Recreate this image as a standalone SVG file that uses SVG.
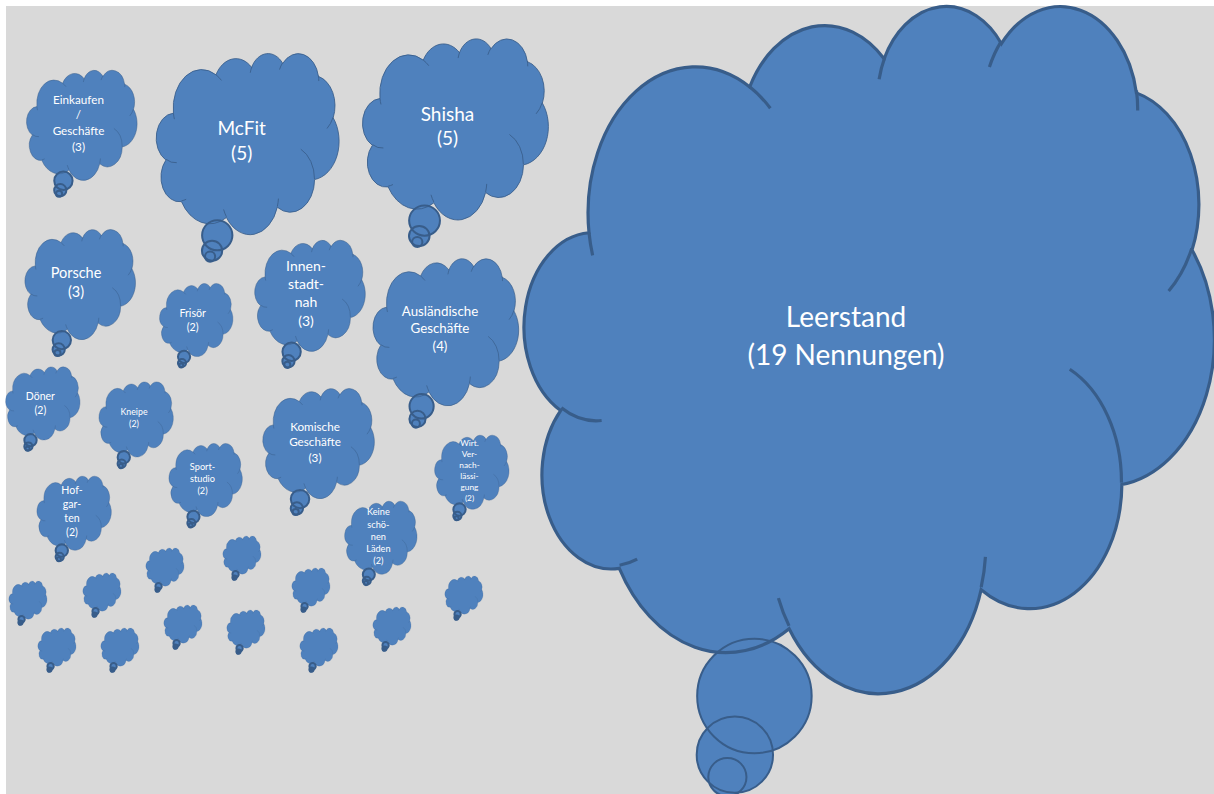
<svg xmlns="http://www.w3.org/2000/svg" xmlns:xlink="http://www.w3.org/1999/xlink" width="1214" height="794" viewBox="0 0 1214 794">
<style>
.t{font-family:Lato,"Liberation Sans",sans-serif;fill:#fff;text-anchor:middle}
.cl{stroke-width:2}
</style>
<defs>
<path id="cp" d="M39,143.7 A67.53,91.9 0 0 1 140.05,52.03 A53.33,72.67 0 0 1 224.57,34.33 A43.65,59.45 0 0 1 298.34,24.81 A48.57,65.95 0 0 1 383.19,55.76 A53.33,72.73 0 0 1 418.19,154.6 A67.75,92.2 0 0 1 374.06,302.05 A57.85,78.67 0 0 1 285.58,368.15 A67.52,92.15 0 0 1 164.83,392.68 A77.2,105.43 0 0 1 58.06,354.74 A43.6,59.18 0 0 1 21.14,255.54 A43.45,59.45 0 0 1 39,143.7 Z"/>
<path id="kp" d="M46.93,261.77 A43.45,59.45 0 0 1 21.59,253.79 M69.28,348.99 A43.6,59.18 0 0 1 58.2,352.81 M164.78,390.9 A67.52,92.15 0 0 1 158.09,373.48 M288.27,347.51 A67.52,92.15 0 0 1 285.6,366.6 M341.29,229.54 A57.85,78.67 0 0 1 373.81,300.9 M417.98,153.54 A53.33,72.73 0 0 1 403.5,180.29 M383.24,54.26 A48.57,65.95 0 0 1 384,66.9 M290.78,39.52 A48.57,65.95 0 0 1 298.2,23.4 M221.41,47.2 A43.65,59.45 0 0 1 225,33.31 M140,51.92 A67.53,91.9 0 0 1 153.01,65.42 M41.27,157.89 A67.53,91.9 0 0 1 39,143.71"/>
<g id="cl">
<g fill="#4f81bd" stroke="none">
<use xlink:href="#cp"/>
<circle cx="126" cy="486" r="12"/>
<circle cx="130.7" cy="471.9" r="24"/>
<circle cx="143" cy="435" r="36"/>
</g>
<g fill="none" stroke="#385d8a">
<use xlink:href="#cp" vector-effect="non-scaling-stroke"/>
<circle cx="126" cy="486" r="12" vector-effect="non-scaling-stroke"/>
<circle cx="130.7" cy="471.9" r="24" vector-effect="non-scaling-stroke"/>
<circle cx="143" cy="435" r="36" vector-effect="non-scaling-stroke"/>
<use xlink:href="#kp" vector-effect="non-scaling-stroke"/>
</g>
</g>
</defs>
<rect width="1214" height="794" fill="#ffffff"/>
<rect x="6" y="6" width="1208" height="788" fill="#d9d9d9"/>

<g id="leerstand">
<use xlink:href="#cl" class="cl" stroke-width="1.7" transform="translate(527,4.2) scale(1.5903)"/>
<text class="t" font-size="28" x="846"><tspan x="846" y="326.9">Leerstand</tspan><tspan x="846" y="365.1">(19 Nennungen)</tspan></text>
</g>

<g id="einkaufen">
<use xlink:href="#cl" class="cl" transform="translate(27,70) scale(0.25463)"/>
<text class="t" font-size="11.7"><tspan x="78.5" y="104.2">Einkaufen</tspan><tspan x="78.5" y="119.2">/</tspan><tspan x="78.5" y="135.2">Geschäfte</tspan><tspan x="78.5" y="150.9">(3)</tspan></text>
</g>

<g id="mcfit">
<use xlink:href="#cl" class="cl" transform="translate(157,53) scale(0.4213,0.41898)"/>
<text class="t" font-size="19"><tspan x="241.7" y="134.8">McFit</tspan><tspan x="241.7" y="159.8">(5)</tspan></text>
</g>

<g id="shisha">
<use xlink:href="#cl" class="cl" transform="translate(363.3,38.3) scale(0.42824,0.41898)"/>
<text class="t" font-size="19"><tspan x="447.5" y="120.8">Shisha</tspan><tspan x="447.5" y="145.1">(5)</tspan></text>
</g>

<g id="porsche">
<use xlink:href="#cl" class="cl" transform="translate(25.4,229.3) scale(0.25463)"/>
<text class="t" font-size="14.5"><tspan x="76" y="277.9">Porsche</tspan><tspan x="76" y="296.9">(3)</tspan></text>
</g>

<g id="frisoer">
<use xlink:href="#cl" class="cl" transform="translate(159.9,283.3) scale(0.16898)"/>
<text class="t" font-size="10.7"><tspan x="192.7" y="316.6">Frisör</tspan><tspan x="192.7" y="330.6">(2)</tspan></text>
</g>

<g id="innenstadtnah">
<use xlink:href="#cl" class="cl" transform="translate(255.2,240) scale(0.25463,0.25694)"/>
<text class="t" font-size="14"><tspan x="306" y="270.7">Innen-</tspan><tspan x="306" y="289.3">stadt-</tspan><tspan x="306" y="307.3">nah</tspan><tspan x="306" y="326">(3)</tspan></text>
</g>

<g id="auslaendische">
<use xlink:href="#cl" class="cl" transform="translate(373.6,258.3) scale(0.33565,0.34028)"/>
<text class="t" font-size="13.3"><tspan x="440" y="315.5">Ausländische</tspan><tspan x="440" y="333.1">Geschäfte</tspan><tspan x="440" y="350.5">(4)</tspan></text>
</g>

<g id="doener">
<use xlink:href="#cl" class="cl" transform="translate(6,366.7) scale(0.1713,0.16898)"/>
<text class="t" font-size="10.5"><tspan x="40.4" y="399.8">Döner</tspan><tspan x="40.4" y="413.8">(2)</tspan></text>
</g>

<g id="kneipe">
<use xlink:href="#cl" class="cl" transform="translate(99.3,381.7) scale(0.1713,0.17361)"/>
<text class="t" font-size="8.8"><tspan x="134" y="414.9">Kneipe</tspan><tspan x="134" y="426.5">(2)</tspan></text>
</g>

<g id="komische">
<use xlink:href="#cl" class="cl" transform="translate(263.3,388.3) scale(0.25694,0.25463)"/>
<text class="t" font-size="11.7"><tspan x="315" y="430.9">Komische</tspan><tspan x="315" y="445.9">Geschäfte</tspan><tspan x="315" y="461.9">(3)</tspan></text>
</g>

<g id="wirt">
<use xlink:href="#cl" class="cl" transform="translate(435,435) scale(0.1713)"/>
<text class="t" font-size="8.3"><tspan x="469.5" y="446">Wirt.</tspan><tspan x="469.5" y="457">Ver-</tspan><tspan x="469.5" y="468">nach-</tspan><tspan x="469.5" y="479">lässi-</tspan><tspan x="469.5" y="490">gung</tspan><tspan x="469.5" y="501">(2)</tspan></text>
</g>

<g id="sportstudio">
<use xlink:href="#cl" class="cl" transform="translate(169.3,443.3) scale(0.16898)"/>
<text class="t" font-size="9.2"><tspan x="202.5" y="470">Sport-</tspan><tspan x="202.5" y="482.2">studio</tspan><tspan x="202.5" y="494.3">(2)</tspan></text>
</g>

<g id="hofgarten">
<use xlink:href="#cl" class="cl" transform="translate(37.3,476) scale(0.1713)"/>
<text class="t" font-size="10.6"><tspan x="72" y="493.8">Hof-</tspan><tspan x="72" y="508.1">gar-</tspan><tspan x="72" y="522.1">ten</tspan><tspan x="72" y="536.1">(2)</tspan></text>
</g>

<g id="keine">
<use xlink:href="#cl" class="cl" transform="translate(345,501) scale(0.16667,0.16898)"/>
<text class="t" font-size="9.2"><tspan x="378.4" y="515.3">Keine</tspan><tspan x="378.4" y="527.5">schö-</tspan><tspan x="378.4" y="539.8">nen</tspan><tspan x="378.4" y="552">Läden</tspan><tspan x="378.4" y="564.3">(2)</tspan></text>
</g>

<g id="blank1"><use xlink:href="#cl" class="cl" transform="translate(146,548) scale(0.08796)"/></g>
<g id="blank2"><use xlink:href="#cl" class="cl" transform="translate(223,536) scale(0.08796)"/></g>
<g id="blank3"><use xlink:href="#cl" class="cl" transform="translate(9,581) scale(0.08796)"/></g>
<g id="blank4"><use xlink:href="#cl" class="cl" transform="translate(83,573) scale(0.08796)"/></g>
<g id="blank5"><use xlink:href="#cl" class="cl" transform="translate(164,605) scale(0.08796)"/></g>
<g id="blank6"><use xlink:href="#cl" class="cl" transform="translate(227,610) scale(0.08796)"/></g>
<g id="blank7"><use xlink:href="#cl" class="cl" transform="translate(292,568) scale(0.08796)"/></g>
<g id="blank8"><use xlink:href="#cl" class="cl" transform="translate(373,607) scale(0.08796)"/></g>
<g id="blank9"><use xlink:href="#cl" class="cl" transform="translate(300,628) scale(0.08796)"/></g>
<g id="blank10"><use xlink:href="#cl" class="cl" transform="translate(445,576) scale(0.08796)"/></g>
<g id="blank11"><use xlink:href="#cl" class="cl" transform="translate(38,628) scale(0.08796)"/></g>
<g id="blank12"><use xlink:href="#cl" class="cl" transform="translate(101,628) scale(0.08796)"/></g>
</svg>
